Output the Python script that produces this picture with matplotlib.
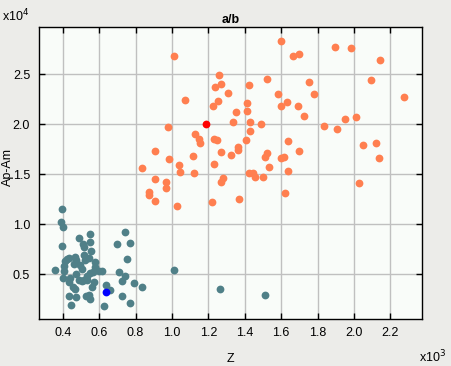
import matplotlib
matplotlib.use("Agg")
import matplotlib.pyplot as plt
from matplotlib.ticker import FuncFormatter, FixedLocator

# ---- data ----
orange_z = [1600, 1011, 1259, 1521, 1270, 1237, 1424, 1308, 1585, 1074, 1253, 1632, 1413,
            1226, 1600, 1352, 1413, 1337, 1429, 1490, 980, 1429, 1127, 1149, 1231, 1248,
            1154, 1407, 1638, 1363, 1363, 907, 1270, 1325, 1116, 1522, 1511, 1600, 1616,
            984, 1231, 1039, 836, 1533, 1638, 1045, 1121, 1424, 1446, 1457, 1501, 907,
            1283, 1270, 968, 968, 874, 874, 1622, 1369, 907, 1220, 1028, 1896, 1984, 1665,
            1698, 2144, 2094, 1753, 1781, 1693, 2276, 1726, 1951, 2012, 1836, 1907, 1698,
            2050, 2122, 2138, 2028]
orange_a = [28330, 26830, 24930, 24530, 24030, 23730, 23930, 23130, 23030, 22430, 22330,
            22260, 22130, 21830, 21800, 21230, 21330, 20230, 20230, 20030, 19730, 19330,
            19000, 18500, 18500, 18400, 18130, 18430, 18330, 17730, 17430, 17330, 17230,
            16930, 16830, 17130, 16700, 16630, 16730, 16530, 16030, 15930, 15630, 15730,
            15330, 15230, 15130, 15130, 15130, 14730, 14730, 14530, 14630, 14230, 14230,
            13630, 13230, 12900, 13130, 12530, 12330, 12230, 11830, 27730, 27630, 26830,
            27030, 26430, 24430, 24230, 23030, 21830, 22730, 20830, 20530, 20730, 19830,
            19530, 17330, 17930, 18130, 16630, 14130]

teal_z = [396, 391, 402, 396, 490, 550, 512, 517, 550, 555, 358, 424, 413, 435, 468, 473,
          517, 523, 545, 495, 506, 407, 407, 462, 577, 577, 566, 550, 534, 517, 599, 616,
          440, 435, 402, 473, 490, 506, 534, 572, 457, 468, 561, 435, 473, 528, 550, 545,
          446, 1010, 1264, 1512, 742, 770, 698, 753, 710, 742, 726, 792, 836, 726, 770,
          627, 660, 638]
teal_a = [11530, 10230, 9730, 7830, 8630, 9030, 8030, 7730, 8230, 7330, 5430, 6530, 6330,
          6630, 6730, 6430, 6930, 6430, 6630, 5930, 5530, 5830, 5330, 6030, 6230, 5730,
          5230, 5130, 4830, 4430, 5330, 5330, 4630, 4230, 4630, 5030, 4430, 4330, 4430,
          4230, 3730, 3530, 3730, 2830, 2730, 2830, 2530, 2930, 1930, 5430, 3530, 2930,
          9230, 8130, 8030, 6530, 5230, 4830, 4330, 4130, 3730, 2830, 2130, 1830, 3430,
          3930]

blue_z = [638]
blue_a = [3230]
red_z = [1187]
red_a = [20000]

x_ticks = [400, 600, 800, 1000, 1200, 1400, 1600, 1800, 2000, 2200]
y_ticks = [5000, 10000, 15000, 20000, 25000]

# ---- figure ----
plt.rcParams['font.family'] = ['Liberation Sans', 'DejaVu Sans']
fig = plt.figure(figsize=(4.51, 3.66), dpi=100, facecolor='#ECECE9')
ax = fig.add_axes([0.0854, 0.1284, 0.8503, 0.7978], facecolor='#F9FCF9')

ms = 5.6
ax.plot(teal_z, teal_a, 'o', color='#508088', ms=ms, mec='none', zorder=3)
ax.plot(orange_z, orange_a, 'o', color='#FF7F50', ms=ms, mec='none', zorder=3)
ax.plot(blue_z, blue_a, 'o', color='#0000FF', ms=ms, mec='none', zorder=4)
ax.plot(red_z, red_a, 'o', color='#FF0000', ms=ms, mec='none', zorder=4)

ax.set_xlim(267, 2374)
ax.set_ylim(550, 29730)
ax.xaxis.set_major_locator(FixedLocator(x_ticks))
ax.yaxis.set_major_locator(FixedLocator(y_ticks))
ax.xaxis.set_major_formatter(FuncFormatter(lambda v, p: f"{v/1000:.1f}"))
ax.yaxis.set_major_formatter(FuncFormatter(lambda v, p: f"{v/10000:.1f}"))
ax.grid(True, color='#C0C0C0', linewidth=1, linestyle='-', zorder=0)
ax.set_axisbelow(True)
ax.tick_params(direction='in', top=True, right=True, length=4, width=1,
               labelsize=9, colors='black', pad=6)
for s in ax.spines.values():
    s.set_linewidth(1)
    s.set_color('black')

ax.set_title('a/b', fontsize=9, fontweight='bold', pad=3)
ax.set_xlabel('Z', fontsize=9, labelpad=10)
ax.set_ylabel('Ap-Am', fontsize=9)
ax.yaxis.set_label_coords(-0.064, 0.52)
fig.text(0.005, 0.955, r'x10$^4$', fontsize=9, ha='left', va='center')
fig.text(0.928, 0.025, r'x10$^3$', fontsize=9, ha='left', va='center')

fig.savefig('out.png', dpi=100, facecolor=fig.get_facecolor())
